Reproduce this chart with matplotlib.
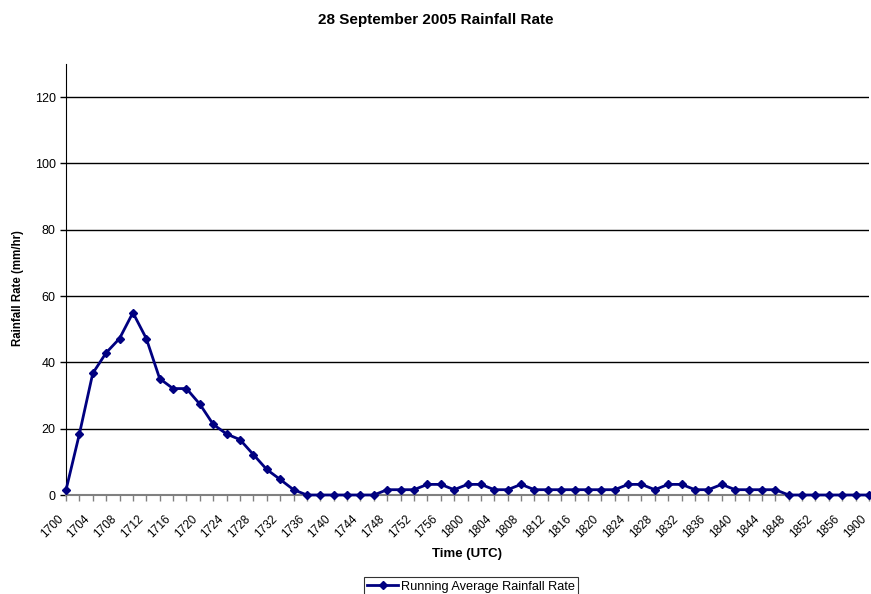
import matplotlib.pyplot as plt
import matplotlib.transforms as mtransforms
import numpy as np

plt.rcParams['font.family'] = ['Liberation Sans', 'DejaVu Sans']

# Tiempos cada 2 minutos de 1700 a 1900 UTC
times = []
for m in range(0, 121, 2):
    h = 17 + m // 60
    times.append(f"{h}{m % 60:02d}")

rate = [1.5, 18.4, 36.7, 42.9, 47.2, 55.0, 47.2, 35.1, 32.1, 32.1,
        27.4, 21.3, 18.4, 16.7, 12.2, 7.7, 4.7, 1.6, 0.0, 0.0,
        0.0, 0.0, 0.0, 0.0, 1.6, 1.6, 1.6, 3.2, 3.2, 1.6,
        3.2, 3.2, 1.6, 1.6, 3.2, 1.6, 1.6, 1.6, 1.6, 1.6,
        1.6, 1.6, 3.2, 3.2, 1.6, 3.2, 3.2, 1.6, 1.6, 3.2,
        1.6, 1.6, 1.6, 1.6, 0.0, 0.0, 0.0, 0.0, 0.0, 0.0,
        0.0]

y_ticks = [0, 20, 40, 60, 80, 100, 120]

fig = plt.figure(figsize=(8.71, 5.94), dpi=100)
ax = fig.add_axes([66/871, 99/594, 803/871, 431/594])

x = np.arange(len(times))
ax.plot(x, rate, color="#000080", linewidth=2, marker="D", markersize=4.5,
        label="Running Average Rainfall Rate", zorder=3, clip_on=False)

ax.set_xlim(0, len(times) - 1)
ax.set_ylim(0, 130)
ax.set_yticks(y_ticks)
ax.tick_params(axis="y", labelsize=9, length=4, width=1, color="black")
ax.set_xticks(x)
ax.set_xticklabels([t if i % 2 == 0 else "" for i, t in enumerate(times)],
                   rotation=45, ha="right", rotation_mode="anchor", fontsize=8.5)
ax.tick_params(axis="x", length=4, width=1, color="#808080", pad=3)

# desplazar etiquetas del eje x como en el original
offset = mtransforms.ScaledTranslation(-0.09, -0.08, fig.dpi_scale_trans)
for lab in ax.get_xticklabels():
    lab.set_transform(lab.get_transform() + offset)

ax.grid(axis="y", color="black", linewidth=1)
ax.set_axisbelow(True)
for s in ["top", "right"]:
    ax.spines[s].set_visible(False)
ax.spines["left"].set_color("black")
ax.spines["bottom"].set_color("#808080")
ax.spines["bottom"].set_linewidth(1.5)

ax.set_xlabel("Time (UTC)", fontsize=9.5, fontweight="bold", labelpad=6)
ax.set_ylabel("Rainfall Rate (mm/hr)", fontsize=8.3, fontweight="bold")
ax.yaxis.set_label_coords(-0.052, 0.48)
fig.suptitle("28 September 2005 Rainfall Rate", fontsize=11, fontweight="bold", y=0.978)

leg = fig.legend(loc="upper center", bbox_to_anchor=(471/871, 1 - 577/594),
                 fontsize=9.2, frameon=True, fancybox=False, edgecolor="black",
                 borderpad=0.3, handlelength=2.4, handletextpad=0.2, borderaxespad=0)
leg.get_frame().set_linewidth(0.8)

fig.savefig("out.png", dpi=100)
